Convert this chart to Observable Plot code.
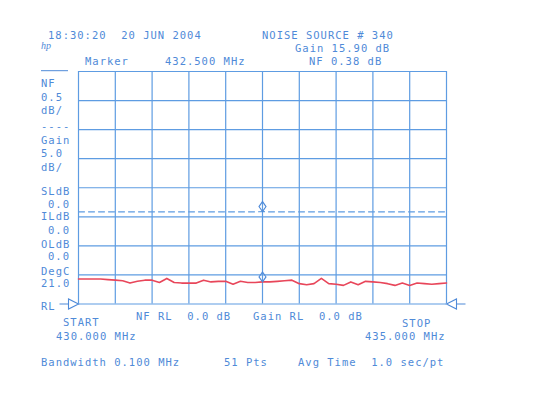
<!DOCTYPE html>
<html>
<head>
<meta charset="utf-8">
<script src="https://cdn.jsdelivr.net/npm/d3@7"></script>
<script src="https://cdn.jsdelivr.net/npm/@observablehq/plot@0.6"></script>
<style>
  html, body { margin: 0; padding: 0; background: #ffffff; }
  #wrap { position: relative; width: 551px; height: 394px; overflow: hidden; }
  #wrap svg { position: absolute; left: 0; top: 0; }
</style>
</head>
<body>
<div id="wrap"></div>
<script>
// Sweep frequencies (MHz), 51 points from START to STOP
const freq = [430.0, 430.1, 430.2, 430.3, 430.4, 430.5, 430.6, 430.7, 430.8, 430.9,
  431.0, 431.1, 431.2, 431.3, 431.4, 431.5, 431.6, 431.7, 431.8, 431.9,
  432.0, 432.1, 432.2, 432.3, 432.4, 432.5, 432.6, 432.7, 432.8, 432.9,
  433.0, 433.1, 433.2, 433.3, 433.4, 433.5, 433.6, 433.7, 433.8, 433.9,
  434.0, 434.1, 434.2, 434.3, 434.4, 434.5, 434.6, 434.7, 434.8, 434.9, 435.0];
// Noise figure (dB)
const nf = [0.43, 0.43, 0.43, 0.43, 0.42, 0.41, 0.40, 0.36, 0.39, 0.41,
  0.41, 0.37, 0.44, 0.37, 0.36, 0.36, 0.36, 0.41, 0.38, 0.39,
  0.39, 0.34, 0.39, 0.37, 0.37, 0.38, 0.38, 0.39, 0.40, 0.41,
  0.35, 0.33, 0.35, 0.44, 0.35, 0.34, 0.32, 0.38, 0.33, 0.39,
  0.38, 0.37, 0.35, 0.32, 0.36, 0.32, 0.36, 0.35, 0.34, 0.35, 0.36];
// Gain (dB), the dashed trace
const gain = [15.85, 15.85, 15.85, 15.85, 15.85, 15.85, 15.85, 15.85, 15.85, 15.85,
  15.85, 15.85, 15.85, 15.85, 15.85, 15.85, 15.85, 15.85, 15.85, 15.85,
  15.85, 15.85, 15.85, 15.85, 15.85, 15.90, 15.85, 15.85, 15.85, 15.85,
  15.85, 15.85, 15.85, 15.85, 15.85, 15.85, 15.85, 15.85, 15.85, 15.85,
  15.85, 15.85, 15.85, 15.85, 15.85, 15.85, 15.85, 15.85, 15.85, 15.85, 15.85];
const markerFreq = 432.5;
const markerNF = 0.38;
const markerGain = 15.90;
const nfPerDiv = 0.5;
const gainPerDiv = 5;
const refLevel = 0;
const xGrid = [430, 430.5, 431, 431.5, 432, 432.5, 433, 433.5, 434, 434.5, 435];
const yGrid = [0, 1, 2, 3, 4, 5, 6, 7, 8];
const startFreq = 430, stopFreq = 435;

const blue = "#4f8ad8";
const gridBlue = "#5e9ce2";
const red = "#e8465a";

const markerSymbol = {
  draw(ctx) {
    ctx.moveTo(0, 0); ctx.lineTo(3.5, -5); ctx.lineTo(0, -10); ctx.lineTo(-3.5, -5); ctx.closePath();
  }
};
const rlRight = {
  draw(ctx) {
    ctx.moveTo(0, 0); ctx.lineTo(-10, -5); ctx.lineTo(-10, 5); ctx.closePath();
    ctx.moveTo(-10, 0); ctx.lineTo(-19, 0);
  }
};
const rlLeft = {
  draw(ctx) {
    ctx.moveTo(0, 0); ctx.lineTo(10, -5); ctx.lineTo(10, 5); ctx.closePath();
    ctx.moveTo(10, 0); ctx.lineTo(19, 0);
  }
};

const rows = freq.map((f, i) => ({f, nf: nf[i], gain: gain[i]}));

const chart = Plot.plot({
  width: 551, height: 394,
  marginLeft: 78, marginRight: 105, marginTop: 71, marginBottom: 90.5,
  x: {domain: [startFreq, stopFreq], axis: null},
  y: {domain: [0, 8], axis: null},
  style: {background: "transparent"},
  marks: [
    Plot.ruleX(xGrid, {stroke: gridBlue, strokeWidth: 1.2}),
    Plot.ruleY(yGrid, {stroke: gridBlue, strokeWidth: 1.2}),
    Plot.line(rows, {x: "f", y: d => (d.gain - refLevel) / gainPerDiv, stroke: gridBlue, strokeWidth: 1.2, strokeDasharray: "6,4"}),
    Plot.line(rows, {x: "f", y: d => (d.nf - refLevel) / nfPerDiv, stroke: red, strokeWidth: 1.6}),
    Plot.dot([{f: markerFreq, v: markerNF / nfPerDiv}, {f: markerFreq, v: markerGain / gainPerDiv}],
      {x: "f", y: "v", symbol: markerSymbol, r: 5, stroke: blue, strokeWidth: 1.1, fill: "none"}),
    Plot.dot([{f: startFreq, v: refLevel}], {x: "f", y: "v", symbol: rlRight, r: 5, stroke: blue, strokeWidth: 1.1, fill: "none"}),
    Plot.dot([{f: stopFreq, v: refLevel}], {x: "f", y: "v", symbol: rlLeft, r: 5, stroke: blue, strokeWidth: 1.1, fill: "none"})
  ]
});
document.getElementById("wrap").appendChild(chart);

// Instrument annotations
const labels = [
  ["18:30:20  20 JUN 2004", 48, 38.5],
  ["NOISE SOURCE # 340", 262, 38.5],
  ["Gain 15.90 dB", 295, 51.5],
  ["Marker", 85, 64.5],
  ["432.500 MHz", 165, 64.5],
  ["NF 0.38 dB", 309, 64.5],
  ["NF", 41, 87],
  ["0.5", 41, 100.5],
  ["dB/", 41, 114],
  ["----", 41, 129.5],
  ["Gain", 41, 144],
  ["5.0", 41, 156.5],
  ["dB/", 41, 171],
  ["SLdB", 41, 195],
  ["0.0", 48, 208],
  ["ILdB", 41, 220],
  ["0.0", 48, 234],
  ["OLdB", 41, 248],
  ["0.0", 48, 260],
  ["DegC", 41, 274.5],
  ["21.0", 41, 287],
  ["RL", 41, 310],
  ["NF RL  0.0 dB", 136, 319.5],
  ["Gain RL  0.0 dB", 253, 319.5],
  ["START", 63, 325.5],
  ["STOP", 402, 326.5],
  ["430.000 MHz", 56, 339.5],
  ["435.000 MHz", 365, 339.5],
  ["Bandwidth 0.100 MHz", 41, 366],
  ["51 Pts", 224, 366],
  ["Avg Time  1.0 sec/pt", 298, 366]
];
const svg = d3.select("#wrap").append("svg")
  .attr("width", 551).attr("height", 394)
  .style("font-family", "'DejaVu Sans Mono', monospace")
  .style("font-size", "10.5px")
  .style("letter-spacing", "1px");
svg.selectAll("text.lab").data(labels).join("text")
  .attr("class", "lab")
  .attr("x", d => d[1])
  .attr("y", d => d[2])
  .attr("fill", blue)
  .attr("xml:space", "preserve")
  .style("white-space", "pre")
  .text(d => d[0]);
svg.append("text").attr("x", 41).attr("y", 49)
  .attr("fill", blue)
  .style("font-family", "'Liberation Serif', serif")
  .style("font-style", "italic")
  .style("font-size", "10px")
  .style("letter-spacing", "0px")
  .text("hp");
svg.append("line").attr("x1", 41).attr("x2", 68).attr("y1", 70.7).attr("y2", 70.7)
  .attr("stroke", blue).attr("stroke-width", 1);
</script>
</body>
</html>
